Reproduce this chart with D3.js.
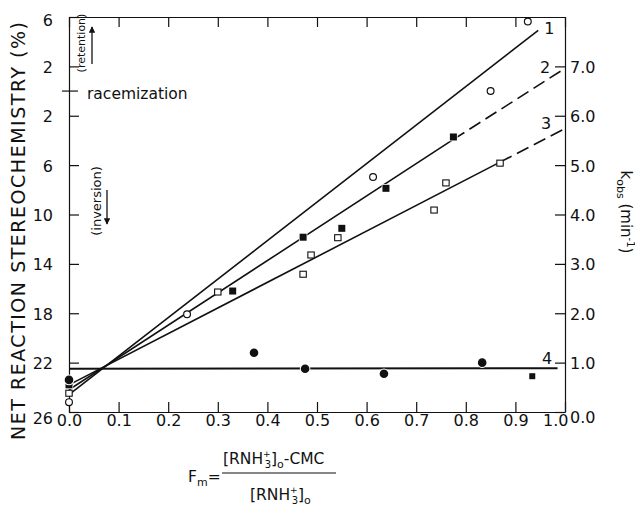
<!DOCTYPE html>
<html>
<head>
<meta charset="utf-8">
<script src="https://cdn.jsdelivr.net/npm/d3@7"></script>
<style>
body { margin: 0; background: #fff; }
svg text { font-family: "DejaVu Sans", sans-serif; fill: #111; }
.axis path, .axis line { stroke: #111; stroke-width: 1.2; }
.axis text { font-size: 16px; font-family: "DejaVu Sans", sans-serif; fill: #111; }
</style>
</head>
<body>
<div id="chart"></div>
<script>
/* -----------------------
data
------------------------- */

var fmTicks = [0, 0.1, 0.2, 0.3, 0.4, 0.5, 0.6, 0.7, 0.8, 0.9, 1.0];
var stereoTicks = [-6, -2, 2, 6, 10, 14, 18, 22, 26];   // negative = retention
var kTicks = [0, 1, 2, 3, 4, 5, 6, 7];

// k_obs, open circles (line 1)
var fm1 = [0, 0.238, 0.613, 0.85, 0.925];
var k1  = [0.2, 1.98, 4.76, 6.5, 7.91];
// k_obs, filled squares (line 2)
var fm2 = [0, 0.33, 0.472, 0.55, 0.639, 0.775];
var k2  = [0.55, 2.45, 3.54, 3.72, 4.53, 5.57];
// k_obs, open squares (line 3)
var fm3 = [0, 0.30, 0.472, 0.488, 0.542, 0.736, 0.76, 0.869];
var k3  = [0.38, 2.43, 2.79, 3.18, 3.53, 4.09, 4.64, 5.04];
// stereochemistry, filled circles (line 4)
var fm4 = [0, 0.373, 0.476, 0.635, 0.833];
var st4 = [23.4, 21.2, 22.5, 22.9, 22.0];
var fm4b = [0.934];
var st4b = [23.1];

// fitted lines [Fm, value]
var line1 = [[0, 0.35], [0.946, 7.73]];
var line2 = [[0, 0.45], [0.775, 5.52]];
var line2dash = [[0.775, 5.52], [1.0, 6.96]];
var line3 = [[0, 0.55], [0.869, 5.06]];
var line3dash = [[0.869, 5.06], [1.0, 5.74]];
var line4 = [[0, 22.5], [0.985, 22.45]];

/* -----------------------
set plot
------------------------- */

var width = 635, height = 506;
var margin = {top: 17, right: 70, bottom: 94, left: 69};

var svg = d3.select("#chart").append("svg")
	.attr("width", width)
	.attr("height", height);

var x = d3.scaleLinear().domain([0, 1]).range([margin.left, width - margin.right]);
var yS = d3.scaleLinear().domain([-6, 26]).range([margin.top, height - margin.bottom]);
var yK = d3.scaleLinear().domain([0, 8]).range([height - margin.bottom, margin.top]);

var x0 = x(0), x1 = x(1), yTop = yS(-6), yBot = yS(26);

/* -----------------------
axes
------------------------- */

svg.append("g").attr("class", "axis")
	.attr("transform", "translate(0," + yBot + ")")
	.call(d3.axisBottom(x).tickValues(fmTicks).tickSizeInner(-10).tickSizeOuter(0)
		.tickPadding(3).tickFormat(d3.format(".1f")))
	.selectAll("text")
	.attr("text-anchor", function (d) { return d == 1 ? "end" : "middle"; })
	.attr("dx", function (d) { return d == 1 ? "3" : "0"; });

svg.append("g").attr("class", "axis")
	.attr("transform", "translate(0," + yTop + ")")
	.call(d3.axisTop(x).tickValues(fmTicks).tickSizeInner(-10).tickSizeOuter(0).tickFormat(""));

svg.append("g").attr("class", "axis")
	.attr("transform", "translate(" + x0 + ",0)")
	.call(d3.axisLeft(yS).tickValues(stereoTicks).tickSizeInner(-10).tickSizeOuter(0)
		.tickPadding(16).tickFormat(function (d) { return Math.abs(d); }))
	.selectAll("text").attr("dy", function (d) { return d == 26 ? "0.7em" : (d == -6 ? "0.5em" : "0.38em"); });

svg.append("g").attr("class", "axis")
	.attr("transform", "translate(" + x1 + ",0)")
	.call(d3.axisRight(yK).tickValues(kTicks).tickSizeInner(-10).tickSizeOuter(0)
		.tickPadding(5).tickFormat(d3.format(".1f")))
	.selectAll("text").attr("dy", function (d) { return d == 0 ? "0.65em" : "0.38em"; });

// racemization tick
svg.append("line")
	.attr("x1", x0 - 7).attr("x2", x0 + 9)
	.attr("y1", yS(0)).attr("y2", yS(0))
	.attr("stroke", "#111").attr("stroke-width", 1.2);

/* -----------------------
lines
------------------------- */

var lineK = d3.line().x(function (d) { return x(d[0]); }).y(function (d) { return yK(d[1]); });
var lineS = d3.line().x(function (d) { return x(d[0]); }).y(function (d) { return yS(d[1]); });

var lines = svg.append("g").attr("fill", "none").attr("stroke", "#111").attr("stroke-width", 1.6);
lines.append("path").attr("d", lineK(line1));
lines.append("path").attr("d", lineK(line2));
lines.append("path").attr("d", lineK(line2dash)).attr("stroke-dasharray", "13,6");
lines.append("path").attr("d", lineK(line3));
lines.append("path").attr("d", lineK(line3dash)).attr("stroke-dasharray", "13,6");
lines.append("path").attr("d", lineS(line4)).attr("stroke-width", 1.9);

// line labels
var lab = svg.append("g").attr("font-size", "16px");
lab.append("text").attr("x", x(line1[1][0]) + 6).attr("y", yK(line1[1][1]) + 4).text("1");
lab.append("text").attr("x", x(1) - 25).attr("y", yK(7) + 7).text("2");
lab.append("text").attr("x", x(1) - 24).attr("y", yK(6) + 13).text("3");
lab.append("text").attr("x", x(1) - 23).attr("y", yK(1) + 1).text("4");

/* -----------------------
points
------------------------- */

var pts = svg.append("g");

function zip(a, b) { return a.map(function (d, i) { return [d, b[i]]; }); }

// open circles
pts.selectAll(".oc").data(zip(fm1, k1)).enter().append("circle")
	.attr("cx", function (d) { return x(d[0]); })
	.attr("cy", function (d) { return yK(d[1]); })
	.attr("r", 3.4)
	.attr("fill", "#fff").attr("stroke", "#111").attr("stroke-width", 1.2);

// filled squares
pts.selectAll(".fs").data(zip(fm2, k2)).enter().append("rect")
	.attr("x", function (d) { return x(d[0]) - 3.5; })
	.attr("y", function (d) { return yK(d[1]) - 3.5; })
	.attr("width", 7).attr("height", 7)
	.attr("fill", "#111").attr("stroke", "#fff").attr("stroke-width", 1.5)
	.attr("paint-order", "stroke");

// open squares
pts.selectAll(".os").data(zip(fm3, k3)).enter().append("rect")
	.attr("x", function (d) { return x(d[0]) - 3.2; })
	.attr("y", function (d) { return yK(d[1]) - 3; })
	.attr("width", 6.4).attr("height", 6)
	.attr("fill", "#fff").attr("stroke", "#111").attr("stroke-width", 1.1);

// filled circles (stereochemistry)
pts.selectAll(".fc").data(zip(fm4, st4)).enter().append("circle")
	.attr("cx", function (d) { return x(d[0]); })
	.attr("cy", function (d) { return yS(d[1]); })
	.attr("r", 4.3)
	.attr("fill", "#111").attr("stroke", "#fff").attr("stroke-width", 2)
	.attr("paint-order", "stroke");

pts.selectAll(".fb").data(zip(fm4b, st4b)).enter().append("rect")
	.attr("x", function (d) { return x(d[0]) - 3; })
	.attr("y", function (d) { return yS(d[1]) - 3; })
	.attr("width", 6).attr("height", 6)
	.attr("fill", "#111");

/* -----------------------
titles and notes
------------------------- */

svg.append("text")
	.attr("transform", "translate(25," + 231 + ") rotate(-90)")
	.attr("text-anchor", "middle")
	.attr("font-size", "19px")
	.attr("textLength", 418).attr("lengthAdjust", "spacing")
	.text("NET REACTION STEREOCHEMISTRY (%)");

var kt = svg.append("text")
	.attr("transform", "translate(621," + 212 + ") rotate(90)")
	.attr("text-anchor", "middle")
	.attr("font-size", "15px");
kt.append("tspan").text("k");
kt.append("tspan").attr("font-size", "11px").attr("dy", 4).text("obs");
kt.append("tspan").attr("dy", -4).text(" (min");
kt.append("tspan").attr("font-size", "10px").attr("dy", -6).text("-1");
kt.append("tspan").attr("dy", 6).text(")");

svg.append("text")
	.attr("transform", "translate(85," + 43 + ") rotate(-90)")
	.attr("text-anchor", "middle")
	.attr("font-size", "11px")
	.text("(retention)");

svg.append("text")
	.attr("transform", "translate(101," + 201 + ") rotate(-90)")
	.attr("text-anchor", "middle")
	.attr("font-size", "13px")
	.text("(inversion)");

svg.append("text")
	.attr("x", 87).attr("y", yS(0) + 8)
	.attr("font-size", "15.5px")
	.text("racemization");

// arrows
var defs = svg.append("defs");
defs.append("marker").attr("id", "ah")
	.attr("viewBox", "0 0 10 10").attr("refX", 9).attr("refY", 5)
	.attr("markerWidth", 5).attr("markerHeight", 5).attr("orient", "auto")
	.append("path").attr("d", "M0,0 L10,5 L0,10 z").attr("fill", "#111");

svg.append("line").attr("x1", 92).attr("x2", 92).attr("y1", 64).attr("y2", 27)
	.attr("stroke", "#111").attr("stroke-width", 1.3).attr("marker-end", "url(#ah)");
svg.append("line").attr("x1", 107).attr("x2", 107).attr("y1", 190).attr("y2", 224)
	.attr("stroke", "#111").attr("stroke-width", 1.3).attr("marker-end", "url(#ah)");

// x-axis formula
var fx = svg.append("g").attr("font-size", "15.5px");
var fmt = fx.append("text").attr("x", 188).attr("y", 482);
fmt.append("tspan").text("F");
fmt.append("tspan").attr("font-size", "11px").attr("dy", 4).text("m");
fmt.append("tspan").attr("dy", -4).text("=");

var num = fx.append("text").attr("x", 223).attr("y", 464);
num.append("tspan").text("[RNH");
num.append("tspan").attr("font-size", "9px").attr("dy", -7).text("+");
num.append("tspan").attr("font-size", "10px").attr("dx", -6).attr("dy", 11).text("3");
num.append("tspan").attr("dy", -4).text("]");
num.append("tspan").attr("font-size", "11px").attr("dy", 4).text("o");
num.append("tspan").attr("dy", -4).text("-CMC");

fx.append("line").attr("x1", 222).attr("x2", 336).attr("y1", 473).attr("y2", 473)
	.attr("stroke", "#111").attr("stroke-width", 1.2);

var den = fx.append("text").attr("x", 250).attr("y", 500);
den.append("tspan").text("[RNH");
den.append("tspan").attr("font-size", "9px").attr("dy", -7).text("+");
den.append("tspan").attr("font-size", "10px").attr("dx", -6).attr("dy", 11).text("3");
den.append("tspan").attr("dy", -4).text("]");
den.append("tspan").attr("font-size", "11px").attr("dy", 4).text("o");
</script>
</body>
</html>
